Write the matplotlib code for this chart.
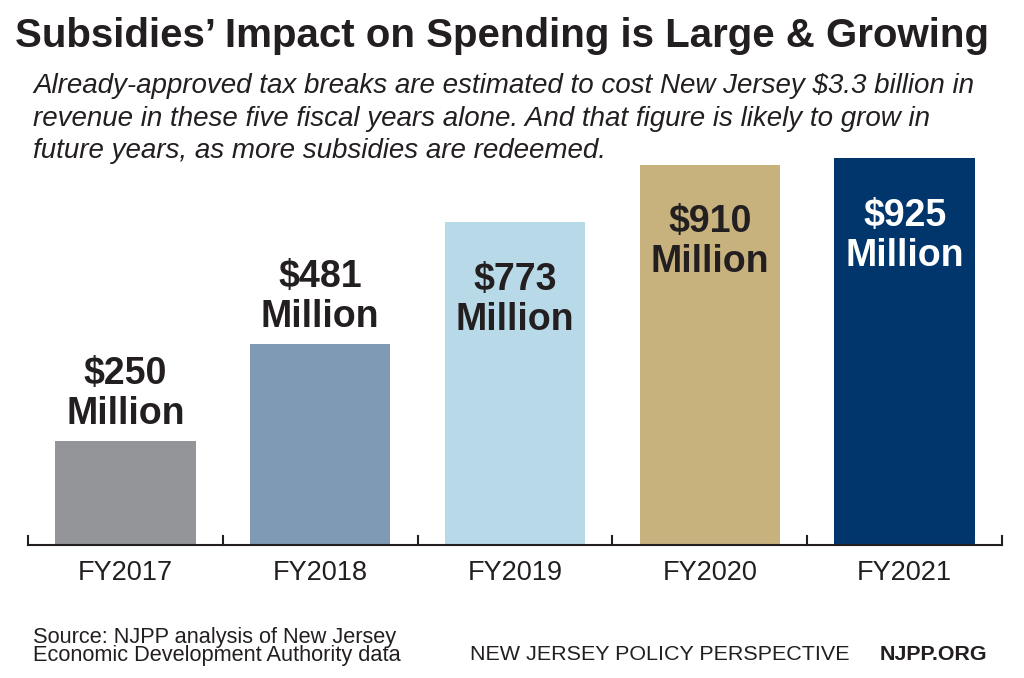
import matplotlib
matplotlib.use("Agg")
import matplotlib.pyplot as plt

years = ["FY2017", "FY2018", "FY2019", "FY2020", "FY2021"]
values = [250, 481, 773, 910, 925]
labels = ["$250\nMillion", "$481\nMillion", "$773\nMillion", "$910\nMillion", "$925\nMillion"]
colors = ["#939598", "#7f9ab5", "#b8d9e8", "#c7b27e", "#00366b"]
label_colors = ["#231f20", "#231f20", "#231f20", "#231f20", "#ffffff"]
inside = [False, False, True, True, True]

plt.rcParams['font.family'] = ['Liberation Sans', 'DejaVu Sans']
dark = "#231f20"

fig = plt.figure(figsize=(10.24, 6.78), dpi=100)
W, H = 1024, 678

def fx(px):
    return px / W

def fy(py):
    return 1 - py / H

# axes: baseline at y=545 px, top at 150 px
ax = fig.add_axes([fx(28), fy(545), fx(1002) - fx(28), (545 - 150) / H])
xs = list(range(len(years)))
ax.bar(xs, values, width=0.72, color=colors, zorder=2)
ax.set_xlim(-0.5, 4.5)
ax.set_ylim(0, 945)
for s in ["top", "right", "left"]:
    ax.spines[s].set_visible(False)
ax.spines["bottom"].set_color(dark)
ax.spines["bottom"].set_linewidth(1.5)
ax.set_yticks([])
ax.set_xticks([])
# boundary ticks pointing up
for b in [-0.5, 0.5, 1.5, 2.5, 3.5, 4.5]:
    ax.plot([b, b], [0, 22], color=dark, lw=1.5, zorder=3, clip_on=False)
for i, y in enumerate(years):
    ax.text(i, -66, y, ha="center", va="center", fontsize=19.5, color=dark)

# value labels
for i, (v, lab) in enumerate(zip(values, labels)):
    yy = v - 186 if inside[i] else v + 112
    ax.text(i, yy, lab, ha="center", va="center", fontsize=27, fontweight="bold",
            color=label_colors[i], linespacing=1.15)

fig.canvas.draw()
renderer = fig.canvas.get_renderer()

def fit(t, width_px):
    bb = t.get_window_extent(renderer)
    t.set_fontsize(t.get_fontsize() * width_px / bb.width)

title = fig.text(fx(15), fy(36), "Subsidies\u2019 Impact on Spending is Large & Growing",
                 ha="left", va="center", fontsize=30, fontweight="bold", color=dark)
fit(title, 975)

sub_lines = [
    "Already-approved tax breaks are estimated to cost New Jersey $3.3 billion in",
    "revenue in these five fiscal years alone. And that figure is likely to grow in",
    "future years, as more subsidies are redeemed.",
]
sub_y = [86, 119, 151]
t0 = fig.text(fx(33), fy(sub_y[0]), sub_lines[0], ha="left", va="center",
              fontsize=18, style="italic", color=dark)
fit(t0, 942)
fs = t0.get_fontsize()
for line, yy in zip(sub_lines[1:], sub_y[1:]):
    fig.text(fx(33), fy(yy), line, ha="left", va="center", fontsize=fs,
             style="italic", color=dark)

s1 = fig.text(fx(33), fy(637), "Source: NJPP analysis of New Jersey", ha="left",
              va="center", fontsize=13, color=dark)
fit(s1, 365)
fig.text(fx(33), fy(656), "Economic Development Authority data", ha="left",
         va="center", fontsize=s1.get_fontsize(), color=dark)
n1 = fig.text(fx(470), fy(654), "NEW JERSEY POLICY PERSPECTIVE", ha="left",
              va="center", fontsize=13, color=dark)
fit(n1, 378)
n2 = fig.text(fx(880), fy(654), "NJPP.ORG", ha="left", va="center",
              fontsize=13, fontweight="bold", color=dark)
fit(n2, 108)

fig.savefig("out.png", dpi=100, facecolor="white")
